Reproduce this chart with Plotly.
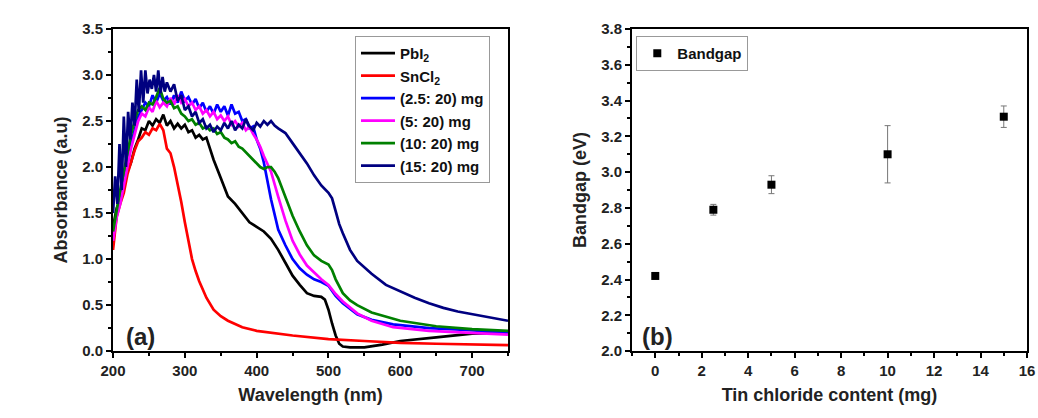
import plotly.graph_objects as go

# ---- (a) absorbance spectra ----
pbi2_x = [200, 205, 210, 215, 220, 225, 230, 235, 240, 245, 250, 255, 260, 265, 270, 275, 280, 285, 290, 295,
          300, 305, 310, 315, 320, 325, 330, 335, 340, 350, 360, 370, 380, 390, 400, 410, 420, 430, 440, 450,
          460, 470, 480, 490, 495, 500, 505, 510, 515, 520, 530, 550, 575, 600, 650, 700, 750]
pbi2_y = [1.35, 1.55, 1.65, 1.8, 1.95, 2.05, 2.2, 2.3, 2.42, 2.4, 2.5, 2.45, 2.52, 2.48, 2.57, 2.45, 2.5, 2.42, 2.47, 2.42,
          2.46, 2.38, 2.4, 2.32, 2.35, 2.3, 2.32, 2.2, 2.08, 1.88, 1.68, 1.6, 1.5, 1.4, 1.35, 1.3, 1.22, 1.1, 0.96, 0.82,
          0.72, 0.63, 0.6, 0.59, 0.56, 0.45, 0.3, 0.17, 0.08, 0.05, 0.04, 0.04, 0.07, 0.11, 0.15, 0.19, 0.2]

sncl2_x = [200, 205, 210, 215, 220, 225, 230, 235, 240, 245, 250, 255, 260, 265, 270, 275, 280, 285, 290, 295,
           300, 305, 310, 315, 320, 330, 340, 350, 360, 380, 400, 450, 500, 550, 600, 650, 700, 750]
sncl2_y = [1.1, 1.46, 1.6, 1.72, 1.92, 2.05, 2.18, 2.28, 2.32, 2.38, 2.35, 2.42, 2.4, 2.47, 2.4, 2.2, 2.15, 2.0, 1.82, 1.62,
           1.4, 1.18, 1.0, 0.87, 0.76, 0.58, 0.45, 0.38, 0.33, 0.26, 0.22, 0.17, 0.13, 0.11, 0.09, 0.08, 0.07, 0.065]

s25_x = [200, 205, 210, 215, 220, 225, 230, 235, 240, 245, 250, 255, 260, 265, 270, 275, 280, 285, 290, 295,
         300, 305, 310, 315, 320, 325, 330, 335, 340, 345, 350, 355, 360, 365, 370, 375, 380, 385, 390, 395,
         400, 405, 410, 415, 420, 430, 440, 450, 460, 470, 480, 490, 500, 510, 520, 540, 560, 590, 640, 690, 750]
s25_y = [1.25, 1.5, 1.7, 1.9, 2.05, 2.25, 2.4, 2.55, 2.62, 2.7, 2.66, 2.78, 2.7, 2.8, 2.72, 2.76, 2.68, 2.78, 2.7, 2.82,
         2.72, 2.76, 2.68, 2.74, 2.64, 2.7, 2.6, 2.66, 2.58, 2.68, 2.6, 2.66, 2.56, 2.68, 2.58, 2.6, 2.5, 2.52, 2.42, 2.44,
         2.3, 2.2, 2.05, 1.85, 1.65, 1.32, 1.15, 1.0, 0.9, 0.83, 0.78, 0.75, 0.71, 0.6, 0.52, 0.4, 0.34, 0.29, 0.25, 0.23, 0.2]

s5_x = [200, 205, 210, 215, 220, 225, 230, 235, 240, 245, 250, 255, 260, 265, 270, 275, 280, 285, 290, 295,
        300, 305, 310, 315, 320, 325, 330, 335, 340, 345, 350, 355, 360, 365, 370, 375, 380, 385, 390, 395,
        400, 405, 410, 415, 420, 430, 440, 450, 460, 470, 480, 490, 500, 510, 520, 540, 560, 590, 640, 690, 750]
s5_y = [1.2, 1.45, 1.6, 1.8, 2.0, 2.2, 2.35, 2.5, 2.58, 2.55, 2.65, 2.6, 2.72, 2.65, 2.7, 2.66, 2.75, 2.68, 2.78, 2.7,
        2.74, 2.66, 2.7, 2.62, 2.66, 2.58, 2.62, 2.55, 2.6, 2.52, 2.56, 2.5, 2.55, 2.46, 2.5, 2.44, 2.48, 2.4, 2.44, 2.36,
        2.3, 2.22, 2.12, 2.04, 1.95, 1.68, 1.42, 1.2, 1.05, 0.93, 0.85, 0.78, 0.72, 0.62, 0.54, 0.41, 0.33, 0.26, 0.22, 0.2, 0.18]

s10_x = [200, 205, 210, 215, 220, 225, 230, 235, 240, 245, 250, 255, 260, 265, 270, 275, 280, 285, 290, 295,
         300, 305, 310, 315, 320, 325, 330, 335, 340, 345, 350, 355, 360, 365, 370, 375, 380, 385, 390, 395,
         400, 405, 410, 415, 420, 425, 430, 440, 450, 460, 470, 480, 490, 500, 505, 510, 520, 530, 540, 560,
         600, 650, 700, 750]
s10_y = [1.3, 1.55, 1.75, 1.95, 2.15, 2.35, 2.5, 2.62, 2.66, 2.62, 2.7, 2.68, 2.76, 2.86, 2.74, 2.7, 2.72, 2.64, 2.66, 2.58,
         2.55, 2.5, 2.52, 2.46, 2.48, 2.42, 2.44, 2.4, 2.42, 2.36, 2.38, 2.32, 2.3, 2.26, 2.28, 2.22, 2.2, 2.16, 2.12, 2.08,
         2.04, 2.0, 1.98, 2.0, 2.0, 1.95, 1.88, 1.68, 1.47, 1.3, 1.15, 1.04, 0.98, 0.94, 0.88, 0.78, 0.63, 0.55, 0.5, 0.42,
         0.33, 0.27, 0.24, 0.22]

s15_x = [200, 203, 206, 209, 212, 215, 218, 221, 224, 227, 230, 233, 236, 239, 242, 245, 248, 251, 254, 257,
         260, 263, 266, 269, 272, 275, 280, 285, 290, 295, 300, 305, 310, 315, 320, 325, 330, 335, 340, 345,
         350, 355, 360, 365, 370, 375, 380, 385, 390, 395, 400, 405, 410, 415, 420, 425, 430, 440, 450, 460,
         470, 480, 490, 500, 505, 510, 515, 520, 530, 540, 560, 580, 600, 620, 640, 660, 680, 700, 720, 750]
s15_y = [1.5, 1.9, 1.6, 2.25, 1.75, 2.55, 2.0, 2.6, 2.3, 2.7, 2.45, 2.95, 2.6, 3.05, 2.7, 3.05, 2.8, 2.95, 2.85, 3.0,
         2.82, 3.05, 2.8, 2.98, 2.82, 2.92, 2.82, 2.9, 2.72, 2.78, 2.62, 2.66, 2.55, 2.6, 2.48, 2.52, 2.42, 2.46, 2.38, 2.44,
         2.4, 2.48, 2.42, 2.5, 2.4, 2.46, 2.42, 2.52, 2.44, 2.4, 2.48, 2.44, 2.5, 2.46, 2.5, 2.45, 2.42, 2.37, 2.26, 2.15,
         2.04, 1.91, 1.8, 1.72, 1.66, 1.52, 1.38, 1.28, 1.1, 0.98, 0.84, 0.72, 0.65, 0.58, 0.52, 0.47, 0.43, 0.4, 0.37, 0.33]

spectra = [
    ("PbI<sub>2</sub>", pbi2_x, pbi2_y, "#000000"),
    ("SnCl<sub>2</sub>", sncl2_x, sncl2_y, "#FF0000"),
    ("(2.5: 20) mg", s25_x, s25_y, "#0000FF"),
    ("(5: 20) mg", s5_x, s5_y, "#FF00FF"),
    ("(10: 20) mg", s10_x, s10_y, "#008000"),
    ("(15: 20) mg", s15_x, s15_y, "#000080"),
]

# ---- (b) bandgap vs tin chloride content ----
tin_content = [0, 2.5, 5, 10, 15]
bandgap = [2.42, 2.79, 2.93, 3.10, 3.31]
bandgap_err = [0.0, 0.03, 0.05, 0.16, 0.06]

FONT = "Arial, Liberation Sans, sans-serif"

fig = go.Figure()

for name, x, y, color in spectra:
    fig.add_trace(go.Scatter(
        x=x, y=y, name=name, mode="lines",
        line=dict(color=color, width=2.7),
        xaxis="x", yaxis="y", legend="legend",
    ))

fig.add_trace(go.Scatter(
    x=tin_content, y=bandgap, name="Bandgap", mode="markers",
    marker=dict(symbol="square", size=8, color="black"),
    error_y=dict(type="data", array=bandgap_err, color="#777777", thickness=1, width=3),
    xaxis="x2", yaxis="y2", legend="legend2",
))

axis_common = dict(
    showline=True, linecolor="black", linewidth=2, mirror=True,
    ticks="outside", ticklen=5, tickwidth=1.5, tickcolor="black",
    showgrid=False, zeroline=False, automargin=False, ticklabeloverflow="allow",
    tickfont=dict(family=FONT, size=15, color="#222", weight="bold"),
    title_font=dict(family=FONT, size=18, color="#222", weight="bold"),
)

fig.update_layout(
    width=1038, height=418,
    margin=dict(l=0, r=0, t=0, b=0),
    paper_bgcolor="white", plot_bgcolor="white",
    xaxis=dict(domain=[0.1089, 0.4894], range=[200, 750], dtick=100, tick0=200,
               minor=dict(dtick=50, ticks="outside", ticklen=3, tickcolor="black"),
               title=dict(text="Wavelength (nm)", standoff=10), anchor="y", **axis_common),
    yaxis=dict(domain=[0.160, 0.9306], range=[0, 3.5], dtick=0.5, tickformat=".1f",
               minor=dict(dtick=0.25, ticks="outside", ticklen=3, tickcolor="black"),
               title=dict(text="Absorbance (a.u)", standoff=10), anchor="x", **axis_common),
    xaxis2=dict(domain=[0.6089, 0.9894], range=[-1, 16], dtick=2, tick0=0,
                minor=dict(dtick=1, ticks="outside", ticklen=3, tickcolor="black"),
                title=dict(text="Tin chloride content (mg)", standoff=10), anchor="y2", **axis_common),
    yaxis2=dict(domain=[0.160, 0.9306], range=[2.0, 3.8], dtick=0.2, tickformat=".1f",
                minor=dict(dtick=0.1, ticks="outside", ticklen=3, tickcolor="black"),
                title=dict(text="Bandgap (eV)", standoff=10), anchor="x2", **axis_common),
    legend=dict(x=0.342, y=0.914, xanchor="left", yanchor="top",
                bgcolor="white", bordercolor="#999", borderwidth=1,
                font=dict(family=FONT, size=15, color="#111", weight="bold"),
                tracegroupgap=0, itemwidth=34),
    legend2=dict(x=0.613, y=0.914, xanchor="left", yanchor="top",
                 bgcolor="white", bordercolor="#999", borderwidth=1,
                 font=dict(family=FONT, size=15, color="#111", weight="bold")),
    annotations=[
        dict(text="<b>(a)</b>", x=0.119, y=0.196, xref="paper", yref="paper",
             xanchor="left", yanchor="middle", showarrow=False,
             font=dict(family=FONT, size=24, color="#222")),
        dict(text="<b>(b)</b>", x=0.617, y=0.196, xref="paper", yref="paper",
             xanchor="left", yanchor="middle", showarrow=False,
             font=dict(family=FONT, size=24, color="#222")),
    ],
)

# drop the browser's default body margin so the figure sits at the page origin
fig.write_html("out.html", config={"displayModeBar": False},
               post_script="document.body.style.margin='0';")
